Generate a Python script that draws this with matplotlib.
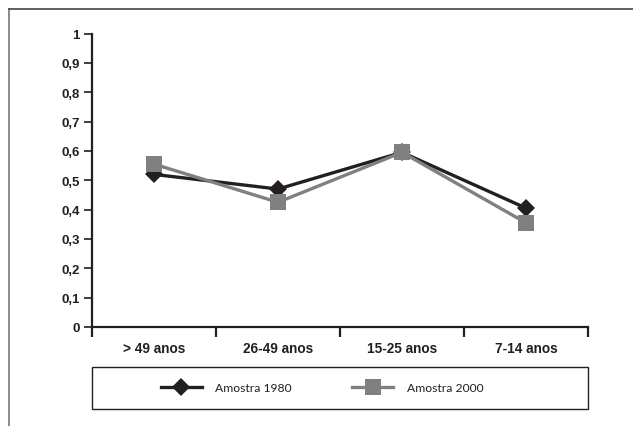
import matplotlib
matplotlib.use("Agg")
import matplotlib.pyplot as plt
from matplotlib.lines import Line2D
from matplotlib.patches import Rectangle

categories = ["> 49 anos", "26-49 anos", "15-25 anos", "7-14 anos"]
amostra_1980 = [0.52, 0.47, 0.595, 0.405]
amostra_2000 = [0.555, 0.425, 0.595, 0.355]
y_ticks = [0, 0.1, 0.2, 0.3, 0.4, 0.5, 0.6, 0.7, 0.8, 0.9, 1]
y_labels = ["0", "0,1", "0,2", "0,3", "0,4", "0,5", "0,6", "0,7", "0,8", "0,9", "1"]

W, H = 633, 427
fig = plt.figure(figsize=(W / 100, H / 100), dpi=100)
fig.patch.set_facecolor("white")

# outer frame (left and top edges visible)
fig.add_artist(Line2D([8.5 / W, 8.5 / W], [0, 1 - 10 / H], transform=fig.transFigure,
                      color="#777777", lw=1.2))
fig.add_artist(Line2D([8.5 / W, 1], [1 - 10 / H, 1 - 10 / H], transform=fig.transFigure,
                      color="#444444", lw=1.2))

ax_l, ax_r, ax_t, ax_b = 92, 588, 34.5, 328
ax = fig.add_axes([ax_l / W, 1 - ax_b / H, (ax_r - ax_l) / W, (ax_b - ax_t) / H])
ax.set_facecolor("none")

dark = "#231f20"
gray = "#808080"
x = [i + 0.5 for i in range(len(categories))]
ax.plot(x, amostra_1980, color=dark, lw=2.4, marker="D", markersize=9.6,
        markeredgewidth=0, label="Amostra 1980", zorder=3)
ax.plot(x, amostra_2000, color=gray, lw=2.4, marker="s", markersize=12,
        markeredgewidth=0, label="Amostra 2000", zorder=4)

ax.set_xlim(0, len(categories))
ax.set_ylim(0, 1)
for s in ["top", "right"]:
    ax.spines[s].set_visible(False)
for s in ["left", "bottom"]:
    ax.spines[s].set_linewidth(1.6)
    ax.spines[s].set_color(dark)

ax.set_yticks(y_ticks)
ax.set_yticklabels(y_labels, fontfamily="Liberation Sans", fontweight="bold",
                   fontsize=9.5, color=dark)
ax.tick_params(axis="y", direction="out", length=6, width=1.2, color=dark, pad=3)

ax.set_xticks(range(len(categories) + 1))
ax.set_xticklabels([])
ax.set_xticks(x, minor=True)
ax.set_xticklabels(categories, minor=True, fontfamily="Liberation Sans",
                   fontweight="bold", fontsize=9.8, color=dark)
ax.tick_params(axis="x", which="major", direction="out", length=7, width=1.6, color=dark)
ax.tick_params(axis="x", which="minor", length=0, pad=10)

# legend box
lb_l, lb_r, lb_t, lb_b = 92, 588, 368, 410
fig.add_artist(Rectangle((lb_l / W, 1 - lb_b / H), (lb_r - lb_l) / W, (lb_b - lb_t) / H,
                         transform=fig.transFigure, fill=False, edgecolor=dark, lw=1.0))
leg = fig.legend(loc="center", bbox_to_anchor=(322 / W, 1 - 389 / H), ncol=2,
                 frameon=False, prop={"family": "Lato", "size": 8.7},
                 handlelength=3.4, handletextpad=1.1, columnspacing=5.0,
                 markerscale=1.0)
for t in leg.get_texts():
    t.set_color(dark)

fig.savefig("out.png", dpi=100, facecolor="white")
